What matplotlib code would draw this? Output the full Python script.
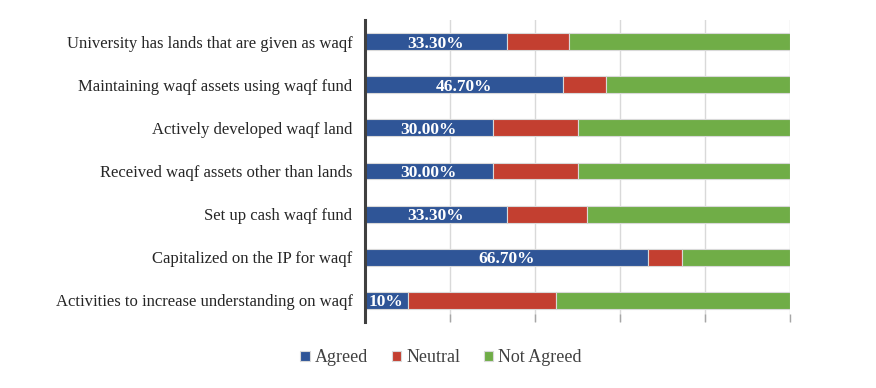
import matplotlib.pyplot as plt
import numpy as np

# data (percent of respondents)
items = ['University has lands that are given as waqf',
         'Maintaining waqf assets using waqf fund',
         'Actively developed waqf land',
         'Received waqf assets other than lands',
         'Set up cash waqf fund',
         'Capitalized on the IP for waqf',
         'Activities to increase understanding on waqf']
agreed = [33.3, 46.7, 30.0, 30.0, 33.3, 66.7, 10.0]
neutral = [14.8, 10.0, 20.0, 20.0, 18.9, 8.0, 35.0]
not_agreed = [100 - a - n for a, n in zip(agreed, neutral)]
agreed_labels = ['33.30%', '46.70%', '30.00%', '30.00%', '33.30%', '66.70%', '10%']

plt.rcParams['font.family'] = ['Liberation Serif', 'DejaVu Serif']

fig = plt.figure(figsize=(8.76, 3.88), dpi=100)
ax = fig.add_axes([365 / 876, 1 - 322 / 388, 425 / 876, 302 / 388])

y = np.arange(len(items))
h = 0.39
c_blue, c_red, c_green = '#2F5597', '#C33F30', '#70AD47'

left = np.zeros(len(items))
b1 = ax.barh(y, agreed, h, left=left, color=c_blue, edgecolor='#d9d9d9', linewidth=0.8, label='Agreed', zorder=3)
left += agreed
b2 = ax.barh(y, neutral, h, left=left, color=c_red, edgecolor='#d9d9d9', linewidth=0.8, label='Neutral', zorder=3)
left += neutral
b3 = ax.barh(y, not_agreed, h, left=left, color=c_green, edgecolor='#d9d9d9', linewidth=0.8, label='Not Agreed', zorder=3)

for yi, a, lab in zip(y, agreed, agreed_labels):
    ax.text(a / 2, yi, lab, ha='center', va='center_baseline', color='white',
            fontsize=12.5, fontweight='bold', zorder=4)

ax.set_xlim(0, 100)
ax.set_ylim(len(items) - 0.5, -0.5)
ax.set_yticks(y)
ax.set_yticklabels(items, fontsize=12, color='#262626')
ax.set_xticks(np.arange(0, 101, 20))
ax.set_xticklabels([])
ax.tick_params(axis='y', length=0, pad=9)
ax.tick_params(axis='x', direction='in', length=6, color='#a6a6a6', width=1)
ax.grid(axis='x', color='#d9d9d9', linewidth=1, zorder=0)

for s in ['top', 'right', 'bottom']:
    ax.spines[s].set_visible(False)
ax.spines['left'].set_color('#404040')
ax.spines['left'].set_linewidth(2.2)
ax.spines['left'].set_zorder(5)

fig.legend(handles=[b1, b2, b3], loc='center', bbox_to_anchor=(441 / 876, 1 - 358 / 388),
           ncol=3, frameon=False, fontsize=13, handlelength=0.5, handleheight=0.5,
           handletextpad=0.3, columnspacing=1.3, labelcolor='#404040')

fig.savefig('out.png', dpi=100)
